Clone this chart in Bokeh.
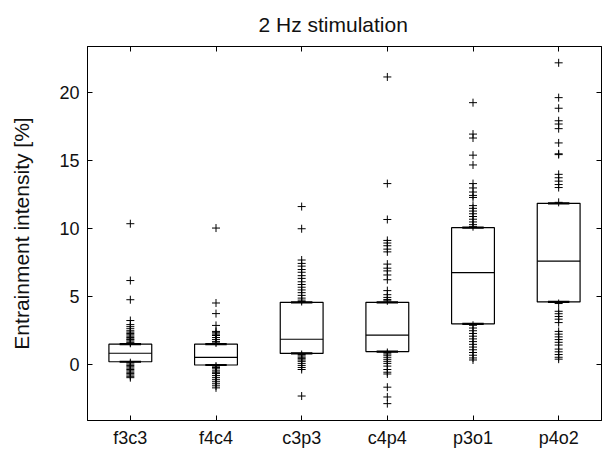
from bokeh.plotting import figure
from bokeh.models import LinearAxis, FixedTicker, ColumnDataSource, Range1d
from bokeh.embed import file_html
from bokeh.resources import INLINE

# ---------------- data ----------------
categories = ["f3c3", "f4c4", "c3p3", "c4p4", "p3o1", "p4o2"]
q1 = [0.22, -0.02, 0.83, 0.97, 3.01, 4.62]
median = [0.85, 0.54, 1.87, 2.18, 6.77, 7.62]
q3 = [1.51, 1.51, 4.59, 4.59, 10.08, 11.87]

out_f3c3 = [10.37, 6.19, 4.78, 3.25, 2.95, 2.8, 2.65, 2.5, 2.4, 2.3, 2.2, 2.1, 2.0, 1.9,
            1.85, 1.75, 1.65, 1.58,
            0.15, 0.05, -0.05, -0.15, -0.25, -0.35, -0.45, -0.55, -0.65, -0.75, -0.85, -0.95]
out_f4c4 = [10.05, 4.54, 3.76, 2.89, 2.45, 2.35, 2.25, 2.15, 2.0, 1.85, 1.7, 1.6,
            -0.1, -0.2, -0.3, -0.45, -0.55, -0.65, -0.8, -0.95, -1.1, -1.25, -1.4, -1.55, -1.7]
out_c3p3 = [11.63, 10.0, 7.7, 7.45, 7.25, 7.0, 6.8, 6.55, 6.35, 6.1, 5.9, 5.7, 5.5, 5.3,
            5.1, 4.9, 4.75, 4.65,
            0.75, 0.65, 0.55, 0.45, 0.35, 0.25, 0.1, -0.05, -0.2, -0.35, -2.3]
out_c4p4 = [21.16, 13.32, 10.68, 9.14, 8.95, 8.75, 8.5, 8.3, 7.4, 7.1, 6.9, 6.6, 6.25,
            5.45, 5.15, 4.95, 4.8, 4.7,
            0.9, 0.8, 0.7, 0.55, 0.4, 0.25, 0.1, -0.1, -0.35, -0.55, -0.68, -1.65, -2.37, -2.86]
out_p3o1 = [19.27, 16.96, 16.67, 15.41, 14.69, 13.32, 13.0, 12.7, 12.45, 12.3, 11.7, 11.5,
            11.3, 11.1, 10.9, 10.7, 10.5, 10.3, 10.15,
            2.9, 2.7, 2.5, 2.3, 2.1, 1.9, 1.7, 1.5, 1.3, 1.1, 0.9, 0.7, 0.5, 0.35]
out_p4o2 = [22.2, 19.64, 18.86, 17.94, 17.7, 17.36, 16.31, 15.51, 15.45, 14.0, 13.75, 13.5,
            13.25, 13.03, 11.94,
            4.5, 3.93, 3.75, 3.55, 3.35, 3.1, 2.45, 2.25, 2.05, 1.85, 1.65, 1.45, 1.15, 0.95,
            0.75, 0.55, 0.41]
outliers = [out_f3c3, out_f4c4, out_c3p3, out_c4p4, out_p3o1, out_p4o2]

title_text = "2 Hz stimulation"
y_label = "Entrainment intensity [%]"
y_ticks = [0, 5, 10, 15, 20]

# ---------------- plot ----------------
FONT = "Liberation Sans"
xpos = list(range(1, len(categories) + 1))

p = figure(width=604, height=450, output_backend="svg", toolbar_location=None,
           x_range=Range1d(0.5, 6.5), y_range=Range1d(-4.1, 23.4),
           min_border_left=87, min_border_right=3, min_border_top=44, min_border_bottom=28)
p.background_fill_color = "white"
p.border_fill_color = "white"
p.outline_line_color = "black"
p.outline_line_width = 1
p.xgrid.visible = False
p.ygrid.visible = False

p.title.text = title_text
p.title.align = "left"
p.title.offset = 171
p.title.standoff = 21
p.title.text_font = FONT
p.title.text_font_size = "21px"
p.title.text_font_style = "normal"
p.title.text_color = "#111111"

def style_axis(ax):
    ax.major_tick_in = 5
    ax.major_tick_out = 0
    ax.minor_tick_line_color = None
    ax.axis_line_color = "black"
    ax.major_tick_line_color = "black"
    ax.major_label_text_font = FONT
    ax.major_label_text_color = "#111111"
    ax.major_label_text_font_size = "18px"

xt = FixedTicker(ticks=xpos)
yt = FixedTicker(ticks=y_ticks)

xa = p.xaxis[0]
xa.ticker = xt
xa.major_label_overrides = {x: c for x, c in zip(xpos, categories)}
style_axis(xa)
xa.major_label_standoff = 7

ya = p.yaxis[0]
ya.ticker = yt
style_axis(ya)
ya.major_label_standoff = 8
ya.axis_label = y_label
ya.axis_label_text_font = FONT
ya.axis_label_text_font_size = "21px"
ya.axis_label_text_font_style = "normal"
ya.axis_label_text_color = "#111111"
ya.axis_label_standoff = 23

top = LinearAxis(ticker=xt)
style_axis(top)
top.major_label_overrides = {x: "" for x in xpos}
top.major_label_standoff = 0
p.add_layout(top, "above")
right = LinearAxis(ticker=yt)
style_axis(right)
right.major_label_overrides = {t: "" for t in y_ticks}
right.major_label_standoff = 0
p.add_layout(right, "right")

# boxes
p.quad(left=[x - 0.25 for x in xpos], right=[x + 0.25 for x in xpos],
       bottom=q1, top=q3, fill_color=None, line_color="black", line_width=1.2)
p.segment(x0=[x - 0.25 for x in xpos], x1=[x + 0.25 for x in xpos],
          y0=median, y1=median, line_color="black", line_width=1.1)
# whisker caps (zero-length whiskers at box edges)
p.segment(x0=[x - 0.125 for x in xpos] * 2, x1=[x + 0.125 for x in xpos] * 2,
          y0=q1 + q3, y1=q1 + q3, line_color="black", line_width=2.2)

ox, oy = [], []
for x, vals in zip(xpos, outliers):
    ox.extend([x] * len(vals))
    oy.extend(vals)
src = ColumnDataSource(data=dict(x=ox, y=oy))
p.scatter(x="x", y="y", source=src, marker="cross", size=8,
          line_color="black", line_width=1)

open("out.html", "w").write(file_html(p, INLINE))
